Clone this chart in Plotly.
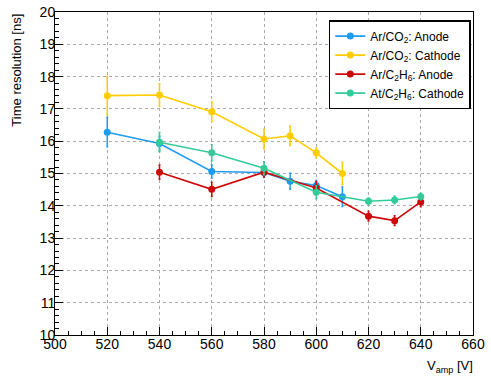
import plotly.graph_objects as go

# Ar/CO2 Anode
x_co2 = [520, 540, 560, 580, 590, 600, 610]
y_co2_anode = [16.28, 15.93, 15.06, 15.03, 14.76, 14.63, 14.28]
e_co2_anode = [0.45, 0.22, 0.2, 0.15, 0.25, 0.15, 0.3]
# Ar/CO2 Cathode
y_co2_cathode = [17.41, 17.43, 16.91, 16.07, 16.17, 15.64, 15.0]
e_co2_cathode = [0.6, 0.35, 0.3, 0.3, 0.3, 0.15, 0.35]
# Ar/C2H6
x_c2h6 = [540, 560, 580, 600, 620, 630, 640]
y_c2h6_anode = [15.04, 14.51, 15.04, 14.55, 13.68, 13.54, 14.12]
e_c2h6_anode = [0.22, 0.22, 0.15, 0.2, 0.15, 0.15, 0.15]
y_c2h6_cathode = [15.97, 15.64, 15.16, 14.42, 14.14, 14.18, 14.29]
e_c2h6_cathode = [0.3, 0.25, 0.2, 0.2, 0.1, 0.12, 0.1]

names = ["Ar/CO<sub>2</sub>: Anode", "Ar/CO<sub>2</sub>: Cathode",
         "Ar/C<sub>2</sub>H<sub>6</sub>: Anode", "At/C<sub>2</sub>H<sub>6</sub>: Cathode"]
colors = ["#1f9cf0", "#ffcc00", "#cc0a0a", "#33cc99"]

series = [
    (x_co2, y_co2_anode, e_co2_anode),
    (x_co2, y_co2_cathode, e_co2_cathode),
    (x_c2h6, y_c2h6_anode, e_c2h6_anode),
    (x_c2h6, y_c2h6_cathode, e_c2h6_cathode),
]

fig = go.Figure()
for (xs, ys, es), n, c in zip(series, names, colors):
    fig.add_trace(go.Scatter(
        x=xs, y=ys, name=n, mode="lines+markers",
        line=dict(color=c, width=1.6),
        marker=dict(color=c, size=7),
        error_y=dict(type="data", array=es, color=c, thickness=1.5, width=1),
    ))

font = "Liberation Sans, Arial, sans-serif"
fig.update_layout(
    width=491, height=376,
    margin=dict(l=55, r=18, t=12, b=41, autoexpand=False),
    paper_bgcolor="white", plot_bgcolor="white",
    font=dict(family=font, color="black"),
    showlegend=True,
    legend=dict(x=0.655, y=0.975, xanchor="left", yanchor="top",
                bgcolor="white", bordercolor="black", borderwidth=1.5,
                font=dict(size=12, family=font), tracegroupgap=0,
                itemwidth=30),
)
fig.update_xaxes(
    range=[500, 660], dtick=20, tick0=500, automargin=False,
    showline=True, linecolor="black", linewidth=1, mirror=True,
    ticks="inside", ticklen=8, tickcolor="black", ticklabelstandoff=-4,
    showgrid=True, gridcolor="#aaaaaa", griddash="dot", gridwidth=1,
    tickfont=dict(size=14, family=font),
    minor=dict(ticks="inside", dtick=5, ticklen=4, tickcolor="black", showgrid=False),
    zeroline=False,
)
fig.update_yaxes(
    range=[10, 20], dtick=1, tick0=10, automargin=False,
    showline=True, linecolor="black", linewidth=1, mirror=True,
    ticks="inside", ticklen=8, tickcolor="black", ticklabelstandoff=-4,
    showgrid=True, gridcolor="#aaaaaa", griddash="dot", gridwidth=1,
    tickfont=dict(size=14, family=font),
    minor=dict(ticks="inside", dtick=0.2, ticklen=4, tickcolor="black", showgrid=False),
    zeroline=False,
)
fig.add_annotation(text="Time resolution [ns]", xref="paper", yref="paper",
                   x=-0.093, y=1.0, xanchor="center", yanchor="top", textangle=-90,
                   showarrow=False, font=dict(size=13, family=font))
fig.add_annotation(text="V<sub>amp</sub> [V]", xref="paper", yref="paper",
                   x=1.005, y=-0.065, xanchor="right", yanchor="top",
                   showarrow=False, font=dict(size=13, family=font))

fig.write_html("out.html", config={"displayModeBar": False},
               post_script="document.body.style.margin='0px';document.body.style.padding='0px';")
